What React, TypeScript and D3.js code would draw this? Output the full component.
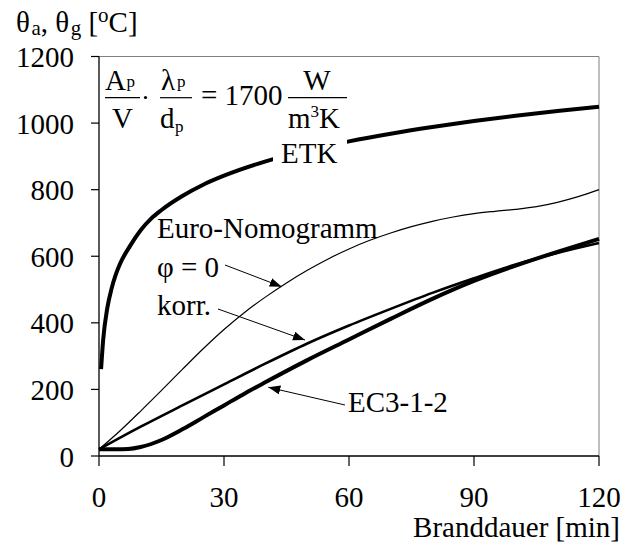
import React from "react";
import * as d3 from "d3";

const xTicks = [0, 30, 60, 90, 120];
const yTicks = [0, 200, 400, 600, 800, 1000, 1200];

const etkT = [0.5, 1, 2, 3, 4, 5, 7.5, 10, 12.5, 15, 20, 25, 30, 40, 50, 60, 70, 80, 90, 100, 110, 120];
const etkV = [261, 349, 445, 502, 544, 576, 632, 678, 713, 739, 781, 815, 842, 885, 918, 945, 968, 988, 1006, 1022, 1036, 1049];

const euroT = [0, 5, 10, 15, 20, 25, 30, 35, 40, 45, 50, 55, 60, 65, 70, 75, 80, 85, 90, 95, 100, 105, 110, 115, 120];
const euroV = [20, 75, 135, 197, 260, 322, 380, 432, 478, 520, 558, 592, 622, 648, 670, 689, 705, 718, 728, 735, 741, 749, 762, 779, 800];

const korrT = [0, 10, 20, 30, 40, 50, 60, 70, 80, 90, 100, 105, 110, 120];
const korrV = [20, 88, 152, 215, 278, 338, 392, 442, 490, 534, 575, 593, 610, 640];

const ec3T = [0, 4, 7, 10, 15, 20, 25, 30, 35, 40, 50, 60, 70, 80, 90, 100, 105, 110, 120];
const ec3V = [20, 20, 21, 27, 48, 80, 116, 152, 188, 222, 288, 350, 412, 472, 526, 572, 593, 613, 652];

const FONT = '"Liberation Serif", "Times New Roman", "DejaVu Serif", serif';
const FS = 29;
const SUB = 17;

export default function App() {
  const x = d3.scaleLinear().domain([0, 120]).range([99, 599]);
  const y = d3.scaleLinear().domain([0, 1200]).range([456, 56.5]);
  const line = d3
    .line<[number, number]>()
    .x((d) => x(d[0]))
    .y((d) => y(d[1]))
    .curve(d3.curveMonotoneX);
  const mk = (t: number[], v: number[]) => line(t.map((tt, i) => [tt, v[i]] as [number, number])) || "";

  const [x0, x1] = x.range();
  const [y0, y1] = y.range();

  return (
    <svg
      width={634}
      height={545}
      style={{ position: "absolute", left: 0, top: 0, background: "#fff", fontFamily: FONT }}
    >
      <defs>
        <marker id="arr" markerUnits="userSpaceOnUse" markerWidth={14} markerHeight={10} refX={12} refY={4.5} orient="auto">
          <path d="M0,0 L12,4.5 L0,9 Z" fill="#000" />
        </marker>
      </defs>
      <rect x={0} y={0} width={634} height={545} fill="#fff" />

      {/* frame */}
      <line x1={x0} x2={x1} y1={y1} y2={y1} stroke="#808080" strokeWidth={1} />
      <line x1={x1} x2={x1} y1={y1} y2={y0} stroke="#808080" strokeWidth={1} />

      {/* curves */}
      <path d={mk(euroT, euroV)} fill="none" stroke="#000" strokeWidth={1.2} />
      <path d={mk(korrT, korrV)} fill="none" stroke="#000" strokeWidth={2.6} />
      <path d={mk(ec3T, ec3V)} fill="none" stroke="#000" strokeWidth={4} />
      <path d={mk(etkT, etkV)} fill="none" stroke="#000" strokeWidth={4} />

      {/* axes */}
      <line x1={x0} x2={x0} y1={y1} y2={y0} stroke="#000" strokeWidth={1.3} />
      <line x1={x0} x2={x1} y1={y0} y2={y0} stroke="#000" strokeWidth={1.3} />
      {yTicks.map((v) => (
        <g key={"y" + v}>
          <line x1={x0 - 8} x2={x0} y1={y(v)} y2={y(v)} stroke="#000" strokeWidth={1.2} />
          <text x={74} y={y(v) + 10.5} fontSize={FS} textAnchor="end">
            {v}
          </text>
        </g>
      ))}
      {xTicks.map((v) => (
        <g key={"x" + v}>
          <line x1={x(v)} x2={x(v)} y1={y0} y2={y0 + 10} stroke="#000" strokeWidth={1.2} />
          <text x={x(v)} y={507} fontSize={FS} textAnchor="middle">
            {v}
          </text>
        </g>
      ))}
      <text x={620} y={537} fontSize={FS} textAnchor="end">
        Branddauer [min]
      </text>

      {/* y title */}
      <text x={16} y={32} fontSize={FS}>
        θ<tspan fontSize={21} dx={1.5} dy={3}>a</tspan>
        <tspan dy={-3}>, θ</tspan>
        <tspan fontSize={21} dx={1.5} dy={3}>g</tspan>
        <tspan dy={-3}> [</tspan>
        <tspan fontSize={21} dy={-10}>o</tspan>
        <tspan dy={10}>C]</tspan>
      </text>

      {/* formula */}
      <g fontSize={FS}>
        <text x={105} y={90}>
          A<tspan fontSize={SUB} dx={0.5} dy={-3}>p</tspan>
        </text>
        <line x1={105} x2={140} y1={97.7} y2={97.7} stroke="#000" strokeWidth={1.2} />
        <text x={122.5} y={128} textAnchor="middle">V</text>
        <circle cx={145.5} cy={97.5} r={1.6} fill="#000" />
        <text x={161} y={90}>
          λ<tspan fontSize={SUB} dx={2} dy={-3}>p</tspan>
        </text>
        <line x1={160} x2={192} y1={97.7} y2={97.7} stroke="#000" strokeWidth={1.2} />
        <text x={160} y={128}>
          d<tspan fontSize={SUB} dx={0.5} dy={4}>p</tspan>
        </text>
        <text x={201} y={105}>= 1700</text>
        <text x={317} y={90} textAnchor="middle">W</text>
        <line x1={288} x2={347} y1={97.7} y2={97.7} stroke="#000" strokeWidth={1.2} />
        <text x={288} y={128}>
          m<tspan fontSize={SUB} dy={-11}>3</tspan>
          <tspan dy={11}>K</tspan>
        </text>
      </g>

      {/* labels */}
      <rect x={273} y={138} width={74} height={28} fill="#fff" />
      <text x={281} y={163} fontSize={FS}>ETK</text>
      <text x={157} y={238} fontSize={FS}>Euro-Nomogramm</text>
      <text x={157} y={277} fontSize={FS}>φ = 0</text>
      <text x={157} y={315} fontSize={FS}>korr.</text>
      <text x={348} y={411.5} fontSize={FS}>EC3-1-2</text>

      {/* arrows */}
      <line x1={225} y1={265} x2={281.7} y2={286.7} stroke="#000" strokeWidth={1} markerEnd="url(#arr)" />
      <line x1={218} y1={309} x2={305} y2={340} stroke="#000" strokeWidth={1} markerEnd="url(#arr)" />
      <line x1={345} y1={405} x2={268.3} y2={387.3} stroke="#000" strokeWidth={1} markerEnd="url(#arr)" />
    </svg>
  );
}
